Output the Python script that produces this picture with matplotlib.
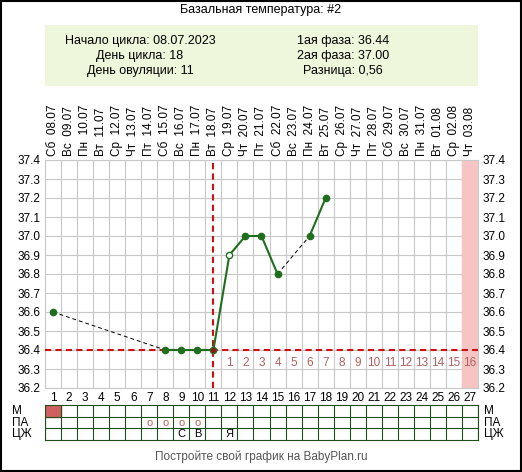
import matplotlib
matplotlib.use("Agg")
import numpy as np
import matplotlib.pyplot as plt
import datetime as dt

W, H = 522, 472
days = list(range(1, 28))
temp_days = [1, 8, 9, 10, 11, 12, 13, 14, 15, 17, 18]
temps = [36.6, 36.4, 36.4, 36.4, 36.4, 36.9, 37.0, 37.0, 36.8, 37.0, 37.2]
weekdays = ['Пн', 'Вт', 'Ср', 'Чт', 'Пт', 'Сб', 'Вс']
start = dt.date(2023, 7, 8)
date_labels = [weekdays[(start + dt.timedelta(d)).weekday()] + '  ' + (start + dt.timedelta(d)).strftime('%d.%m') for d in range(27)]
ovulation_day = 11
cover_line = 36.4
menses_days = [1]
pa_days = [7, 8, 9, 10]
cm_marks = {9: 'С', 10: 'В', 12: 'Я'}

plt.rcParams['font.family'] = ['Liberation Sans', 'DejaVu Sans']
fig = plt.figure(figsize=(W / 100, H / 100), dpi=100)

def fax(l, t, r, b):
    return fig.add_axes([l / W, 1 - b / H, (r - l) / W, (b - t) / H])

# border
fig.patches.append(plt.Rectangle((0.002, 0.002), 0.996, 0.996, transform=fig.transFigure,
                                 fill=False, ec='black', lw=1.5))
fig.text(261 / W, 1 - 10 / H, 'Базальная температура: #2', ha='center', va='center', fontsize=9)
hdr = fax(45, 25, 478, 86)
hdr.set_facecolor('#eef6dc')
hdr.set_xticks([]); hdr.set_yticks([])
for s in hdr.spines.values():
    s.set_visible(False)
for txt, x, y in [('Начало цикла: 08.07.2023', 140, 41), ('День цикла: 18', 140, 56),
                  ('День овуляции: 11', 140, 71)]:
    fig.text(x / W, 1 - y / H, txt, ha='center', va='center', fontsize=9)
for txt, x, y in [('1ая фаза: 36.44', 343, 41), ('2ая фаза: 37.00', 343, 56), ('Разница: 0,56', 343, 71)]:
    fig.text(x / W, 1 - y / H, txt, ha='center', va='center', fontsize=9)

ax = fax(45, 160, 478, 388)
ax.set_xlim(0.5, 27.5)
ax.set_ylim(36.2, 37.4)
ax.set_xticks(days)
ax.set_xticklabels([str(d) for d in days], fontsize=8.5)
ax.set_yticks(np.arange(36.2, 37.41, 0.1))
ax.set_yticklabels(['%.1f' % v for v in np.arange(36.2, 37.41, 0.1)], fontsize=8.5)
ax.tick_params(length=0, pad=3, right=True, labelright=True)
for x in np.arange(0.5, 28, 1):
    ax.axvline(x, color='#c8c8c8', lw=0.8, zorder=0)
for y in np.arange(36.2, 37.41, 0.1):
    ax.axhline(y, color='#c8c8c8', lw=0.8, zorder=0)
for s in ax.spines.values():
    s.set_color('#c8c8c8')
ax.axvspan(26.5, 27.5, color='#f7c4c4', zorder=0.5)
top = ax.secondary_xaxis('top')
top.set_xticks(days)
top.set_xticklabels(date_labels, rotation=90, fontsize=8.5)
top.tick_params(length=0, pad=3)
top.spines['top'].set_visible(False)

ax.axhline(cover_line, color='#d01010', ls='--', lw=1.5, dashes=(3, 2), zorder=3)
ax.axvline(ovulation_day + 0.0, color='#d01010', ls='--', lw=1.5, dashes=(3, 2), zorder=3)
for i, d in enumerate(range(ovulation_day + 1, 28)):
    ax.text(d, 36.33, str(i + 1), ha='center', va='center', fontsize=8.5, color='#b06060')

for i in range(len(temp_days) - 1):
    consecutive = temp_days[i + 1] - temp_days[i] == 1
    ax.plot(temp_days[i:i + 2], temps[i:i + 2], color='#1e6e1e' if consecutive else 'black',
            lw=1.5 if consecutive else 0.7, ls='-' if consecutive else (0, (4, 3)), zorder=4)
for d, t in zip(temp_days, temps):
    if d == ovulation_day:
        ax.plot(d, t, 'o', ms=4.5, mfc='#a01010', mec='#1e6e1e', zorder=5)
    elif d == 12:
        ax.plot(d, t, 'o', ms=4.5, mfc='white', mec='#1e6e1e', zorder=5)
    else:
        ax.plot(d, t, 'o', ms=4.5, mfc='#1e6e1e', mec='#1e6e1e', zorder=5)

tb = fax(45, 405, 478, 440)
tb.set_xlim(0.5, 27.5)
tb.set_ylim(3, 0)
tb.set_xticks([]); tb.set_yticks([])
for d in menses_days:
    tb.add_patch(plt.Rectangle((d - 0.5, 0), 1, 1, color='#d06060'))
for d in pa_days:
    tb.text(d, 1.5, 'o', ha='center', va='center', fontsize=8, color='#c06060')
for d, m in cm_marks.items():
    tb.text(d, 2.5, m, ha='center', va='center', fontsize=8)
for x in np.arange(0.5, 28, 1):
    tb.axvline(x, color='#1e501e', lw=0.8)
for y in [1, 2]:
    tb.axhline(y, color='#1e501e', lw=0.8)
for s in tb.spines.values():
    s.set_color('#1e501e')
for i, lab in enumerate(['М', 'ПА', 'ЦЖ']):
    y = 1 - (411 + i * 11.5) / H
    fig.text(12 / W, y, lab, ha='left', va='center', fontsize=8.5)
    fig.text(484 / W, y, lab, ha='left', va='center', fontsize=8.5)

fig.text(261 / W, 1 - 457 / H, 'Постройте свой график на BabyPlan.ru', ha='center', va='center',
         fontsize=8.5, color='#555555')
fig.savefig('out.png', dpi=100)
